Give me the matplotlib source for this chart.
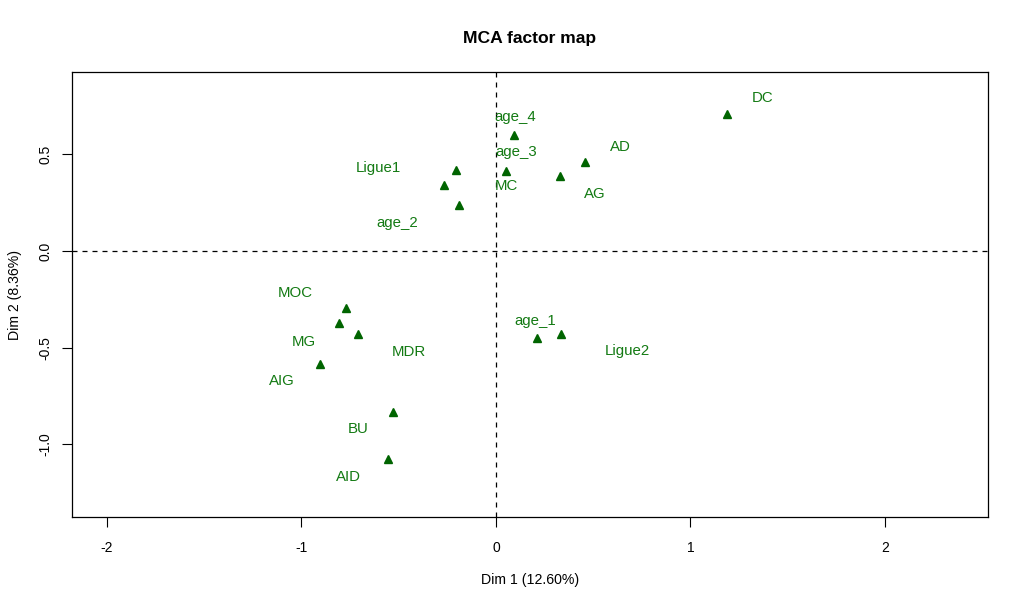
import matplotlib

matplotlib.use("Agg")
import matplotlib.pyplot as plt

# ── data: category coordinates on Dim 1 / Dim 2 ─────────────────────────────
categories = ["DC", "age_4", "AD", "age_3", "MC", "AG", "Ligue1", "age_2",
              "MOC", "MG", "MDR", "AIG", "age_1", "Ligue2", "BU", "AID"]
dim1 = [1.188, 0.093, 0.459, 0.051, -0.266, 0.328, -0.207, -0.192,
        -0.771, -0.807, -0.710, -0.905, 0.211, 0.334, -0.530, -0.555]
dim2 = [0.707, 0.600, 0.462, 0.414, 0.343, 0.388, 0.417, 0.236,
        -0.295, -0.374, -0.429, -0.583, -0.452, -0.431, -0.833, -1.076]

# label placement (repelled text positions, data units)
label_x = [1.371, 0.098, 0.638, 0.103, 0.051, 0.506, -0.607, -0.509,
           -1.033, -0.990, -0.446, -1.102, 0.204, 0.677, -0.708, -0.759]
label_y = [0.790, 0.693, 0.538, 0.512, 0.337, 0.293, 0.429, 0.145,
           -0.216, -0.469, -0.521, -0.674, -0.361, -0.516, -0.922, -1.170]

x_ticks = [-2, -1, 0, 1, 2]
y_ticks = [-1.0, -0.5, 0.0, 0.5]

GREEN = "#006400"

plt.rcParams["font.family"] = ["Liberation Sans", "DejaVu Sans"]

fig = plt.figure(figsize=(10.24, 6.06), dpi=100)
ax = fig.add_axes([72 / 1024, 1 - 517 / 606, 916 / 1024, 445 / 606])

ax.axvline(0, color="black", lw=0.9, ls=(0, (4, 4)))
ax.axhline(0, color="black", lw=0.9, ls=(0, (4, 4)))

ax.plot(dim1, dim2, "^", color=GREEN, ms=6, mec=GREEN, ls="none")
for name, lx, ly in zip(categories, label_x, label_y):
    ax.text(lx, ly, name, color="#137a13", fontsize=10.8, ha="center", va="center")

ax.set_xlim(-2.18, 2.53)
ax.set_ylim(-1.376, 0.926)
ax.set_xticks(x_ticks)
ax.set_xticklabels([str(t) for t in x_ticks])
ax.set_yticks(y_ticks)
ax.set_yticklabels([f"{t:.1f}" for t in y_ticks], rotation=90, va="center")
ax.tick_params(direction="out", length=7, width=0.8, labelsize=10)
ax.tick_params(axis="x", pad=10)
ax.tick_params(axis="y", pad=7)
for sp in ax.spines.values():
    sp.set_linewidth(0.9)

ax.set_xlabel("Dim 1 (12.60%)", fontsize=10.2, labelpad=13)
ax.set_ylabel("Dim 2 (8.36%)", fontsize=10.2, labelpad=12)
ax.set_title("MCA factor map", fontsize=12.6, fontweight="bold", pad=21)

fig.savefig("out.png", dpi=100)
